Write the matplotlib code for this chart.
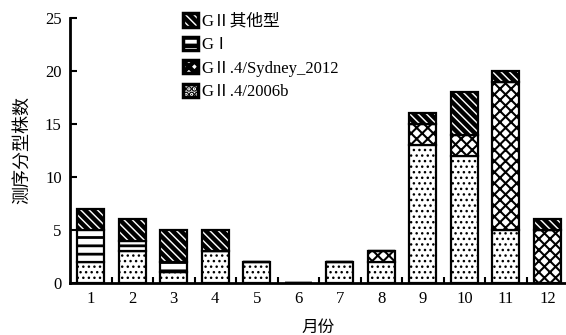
import matplotlib
matplotlib.use("Agg")
import matplotlib.pyplot as plt
import numpy as np
from matplotlib.patches import Patch

plt.rcParams['font.family'] = ['Liberation Serif', 'Noto Sans CJK SC']

# monthly counts of sequenced strains by genotype
months = ['1', '2', '3', '4', '5', '6', '7', '8', '9', '10', '11', '12']
gii4_2006b = [2, 3, 1, 3, 2, 0, 2, 2, 13, 12, 5, 0]
gii4_sydney = [0, 0, 0, 0, 0, 0, 0, 1, 2, 2, 14, 5]
gi = [3, 1, 1, 0, 0, 0, 0, 0, 0, 0, 0, 0]
gii_other = [2, 2, 3, 2, 0, 0, 0, 0, 1, 4, 1, 1]

labels = ['GⅡ.4/2006b', 'GⅡ.4/Sydney_2012', 'GⅠ', 'GⅡ其他型']
hatches = ['...', 'xxx', '--', '\\\\\\\\']
hatch_lw = [1.0, 1.5, 2.0, 3.2]

fig = plt.figure(figsize=(5.66, 3.35), dpi=100)
ax = fig.add_axes([70 / 566, 1 - 283 / 335, 1 - 70 / 566, 265 / 335])

x = np.arange(1, len(months) + 1)
series = [gii4_2006b, gii4_sydney, gi, gii_other]
bottom = np.zeros(len(months))
handles = []
for vals, lab, h, lw in zip(series, labels, hatches, hatch_lw):
    plt.rcParams['hatch.linewidth'] = lw
    vals = np.array(vals, dtype=float)
    bars = ax.bar(x, vals, 0.65, bottom=bottom, color='white',
                  edgecolor='black', linewidth=1.6, hatch=h)
    for p in bars.patches:
        if hasattr(p, 'set_hatch_linewidth'):
            p.set_hatch_linewidth(lw)
    hp = Patch(facecolor='white', edgecolor='black', linewidth=2.5, hatch=h)
    if hasattr(hp, 'set_hatch_linewidth'):
        hp.set_hatch_linewidth(lw)
    handles.append(hp)
    bottom += vals

ax.set_xlim(0.5, 12.45)
ax.set_ylim(0, 25)
ax.set_yticks([0, 5, 10, 15, 20, 25])
ax.set_xticks(x)
ax.set_xticklabels(months)
ax.set_xticks(np.arange(1.5, 12.5, 1), minor=True)
ax.tick_params(axis='x', which='major', length=0, labelsize=12, pad=6)
ax.tick_params(axis='x', which='minor', direction='in', length=4, width=1.5)
ax.tick_params(axis='y', direction='in', length=5, width=1.5, labelsize=12, pad=6)

for s in ['top', 'right']:
    ax.spines[s].set_visible(False)
for s in ['left', 'bottom']:
    ax.spines[s].set_linewidth(2)

ax.set_ylabel('测序分型株数', fontsize=13, family=['Noto Sans CJK SC'], labelpad=10)
ax.set_xlabel('月份', fontsize=12, family=['Noto Sans CJK SC'], labelpad=8)

ax.legend(handles[::-1], labels[::-1], loc='upper left',
          bbox_to_anchor=(175 / 566, 1 - 5 / 335), bbox_transform=fig.transFigure,
          frameon=False, fontsize=12, handlelength=0.85, handleheight=0.85,
          handletextpad=0.25, labelspacing=0.42, borderpad=0)

fig.savefig('out.png', dpi=100)
